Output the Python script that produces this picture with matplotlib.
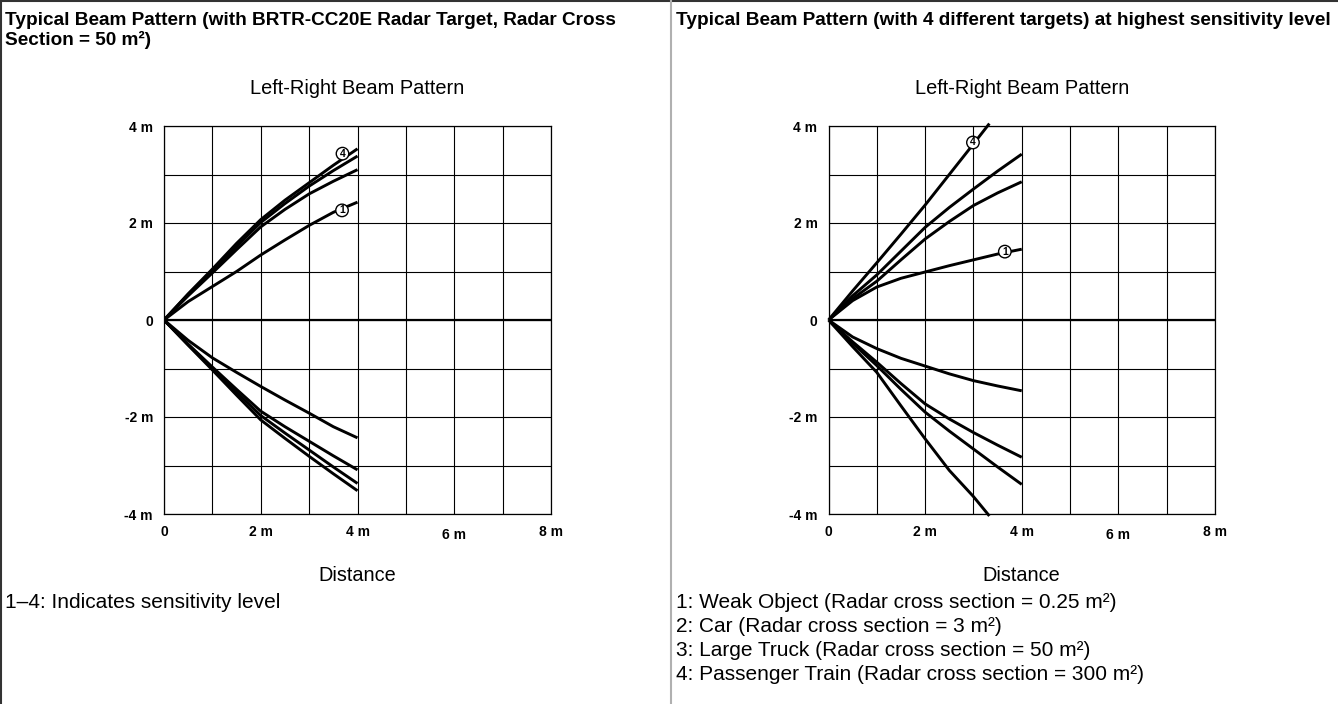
import matplotlib.pyplot as plt
import matplotlib.transforms as mtransforms
from matplotlib.lines import Line2D

plt.rcParams['font.family'] = ['Liberation Sans', 'DejaVu Sans']

W, H = 1338, 704

# distances along the beam (m)
x_full = [0, 0.5, 1, 1.5, 2, 2.5, 3, 3.5, 4]
x_short = [0, 0.5, 1, 1.5, 2, 2.5, 3, 3.33]

# left chart: BRTR-CC20E target, sensitivity levels 1-4
left_up = {
    1: [0, 0.38, 0.69, 1.00, 1.34, 1.65, 1.95, 2.22, 2.43],
    2: [0, 0.50, 0.97, 1.45, 1.92, 2.28, 2.60, 2.86, 3.10],
    3: [0, 0.53, 1.02, 1.52, 2.01, 2.40, 2.76, 3.08, 3.38],
    4: [0, 0.54, 1.05, 1.58, 2.07, 2.47, 2.83, 3.19, 3.53],
}
left_down = {
    1: [0, -0.42, -0.78, -1.08, -1.37, -1.65, -1.92, -2.20, -2.43],
    2: [0, -0.50, -0.97, -1.43, -1.88, -2.20, -2.50, -2.80, -3.09],
    3: [0, -0.51, -1.00, -1.49, -1.97, -2.33, -2.68, -3.03, -3.37],
    4: [0, -0.52, -1.03, -1.55, -2.06, -2.44, -2.81, -3.17, -3.52],
}
left_marks = {4: (3.69, 3.43), 1: (3.68, 2.26)}

# right chart: 4 targets at highest sensitivity
right_up = {
    1: [0, 0.40, 0.68, 0.86, 0.99, 1.12, 1.24, 1.36, 1.46],
    2: [0, 0.44, 0.80, 1.24, 1.67, 2.03, 2.36, 2.62, 2.85],
    3: [0, 0.50, 0.93, 1.42, 1.91, 2.32, 2.70, 3.07, 3.42],
}
right_up4 = [0, 0.60, 1.18, 1.77, 2.37, 3.00, 3.63, 4.05]
right_down = {
    1: [0, -0.35, -0.59, -0.79, -0.95, -1.11, -1.25, -1.36, -1.46],
    2: [0, -0.45, -0.87, -1.31, -1.73, -2.04, -2.32, -2.58, -2.83],
    3: [0, -0.48, -0.94, -1.43, -1.90, -2.29, -2.66, -3.03, -3.39],
}
right_down4 = [0, -0.55, -1.08, -1.77, -2.45, -3.10, -3.64, -4.04]
right_marks = {4: (2.99, 3.66), 1: (3.65, 1.41)}

x_ticks = [0, 2, 4, 6, 8]
x_labels = ['0', '2 m', '4 m', '6 m', '8 m']
y_ticks = [-4, -2, 0, 2, 4]
y_labels = ['-4 m', '-2 m', '0', '2 m', '4 m']

left_header = ('Typical Beam Pattern (with BRTR-CC20E Radar Target, Radar Cross\n'
               'Section = 50 m\u00b2)')
right_header = 'Typical Beam Pattern (with 4 different targets) at highest sensitivity level'
left_notes = ['1\u20134: Indicates sensitivity level']
right_notes = [
    '1: Weak Object (Radar cross section = 0.25 m\u00b2)',
    '2: Car (Radar cross section = 3 m\u00b2)',
    '3: Large Truck (Radar cross section = 50 m\u00b2)',
    '4: Passenger Train (Radar cross section = 300 m\u00b2)',
]


def px(x, y):
    return x / W, 1 - y / H


def setup(ax):
    ax.set_xlim(0, 8)
    ax.set_ylim(-4, 4)
    ax.set_xticks(range(0, 9), minor=True)
    ax.set_yticks(range(-4, 5), minor=True)
    ax.set_xticks(x_ticks)
    ax.set_xticklabels(x_labels, fontsize=10, fontweight='bold')
    ax.set_yticks(y_ticks)
    ax.set_yticklabels(y_labels, fontsize=10, fontweight='bold')
    ax.grid(True, which='both', color='black', linewidth=0.8)
    ax.tick_params(which='both', length=0)
    ax.tick_params(axis='x', pad=8)
    ax.tick_params(axis='y', pad=8)
    for s in ax.spines.values():
        s.set_linewidth(0.9)
    ax.axhline(0, color='black', linewidth=1.6, zorder=3)
    ax.set_xlabel('Distance', fontsize=14.3, labelpad=17)
    ax.set_title('Left-Right Beam Pattern', fontsize=14.4, pad=23)
    # the "6 m" label sits a little lower in the original
    lab = ax.xaxis.get_major_ticks()[3].label1
    lab.set_transform(lab.get_transform() +
                      mtransforms.ScaledTranslation(0, -3 / 100, fig.dpi_scale_trans))


def circle(ax, pos, n):
    ax.text(pos[0], pos[1], str(n), fontsize=7.5, fontweight='bold',
            ha='center', va='center', zorder=5,
            bbox=dict(boxstyle='circle,pad=0.12', fc='white', ec='black', lw=1.0))


fig = plt.figure(figsize=(W / 100, H / 100), dpi=100)
ax1 = fig.add_axes([164 / W, 190 / H, 387 / W, 388 / H])
ax2 = fig.add_axes([828.5 / W, 190 / H, 386.5 / W, 388 / H])

for ax in (ax1, ax2):
    setup(ax)

for k in left_up:
    ax1.plot(x_full, left_up[k], color='black', lw=2.1, zorder=4, solid_capstyle='butt')
    ax1.plot(x_full, left_down[k], color='black', lw=2.1, zorder=4, solid_capstyle='butt')
for k, p in left_marks.items():
    circle(ax1, p, k)

for k in right_up:
    ax2.plot(x_full, right_up[k], color='black', lw=2.1, zorder=4, solid_capstyle='butt')
    ax2.plot(x_full, right_down[k], color='black', lw=2.1, zorder=4, solid_capstyle='butt')
ax2.plot(x_short, right_up4, color='black', lw=2.1, zorder=4, clip_on=False, solid_capstyle='butt')
ax2.plot(x_short, right_down4, color='black', lw=2.1, zorder=4, clip_on=False, solid_capstyle='butt')
for k, p in right_marks.items():
    circle(ax2, p, k)

# headers
fig.text(*px(5, 12), left_header, fontsize=13.7, fontweight='bold',
         ha='left', va='top', linespacing=1.15)
fig.text(*px(676, 12), right_header, fontsize=13.7, fontweight='bold',
         ha='left', va='top')

# notes under the charts
for i, t in enumerate(left_notes):
    fig.text(*px(5, 602 + 24 * i), t, fontsize=15, ha='left', va='center')
for i, t in enumerate(right_notes):
    fig.text(*px(676, 602 + 24 * i), t, fontsize=15, ha='left', va='center')

# table borders
fig.add_artist(Line2D([0, 1], [1 - 1 / H, 1 - 1 / H], color='#333333', lw=1.5))
fig.add_artist(Line2D([1 / W, 1 / W], [0, 1], color='#333333', lw=1.5))
fig.add_artist(Line2D([671 / W, 671 / W], [0, 1], color='#b0b0b0', lw=1.5))

fig.savefig('out.png', dpi=100)
